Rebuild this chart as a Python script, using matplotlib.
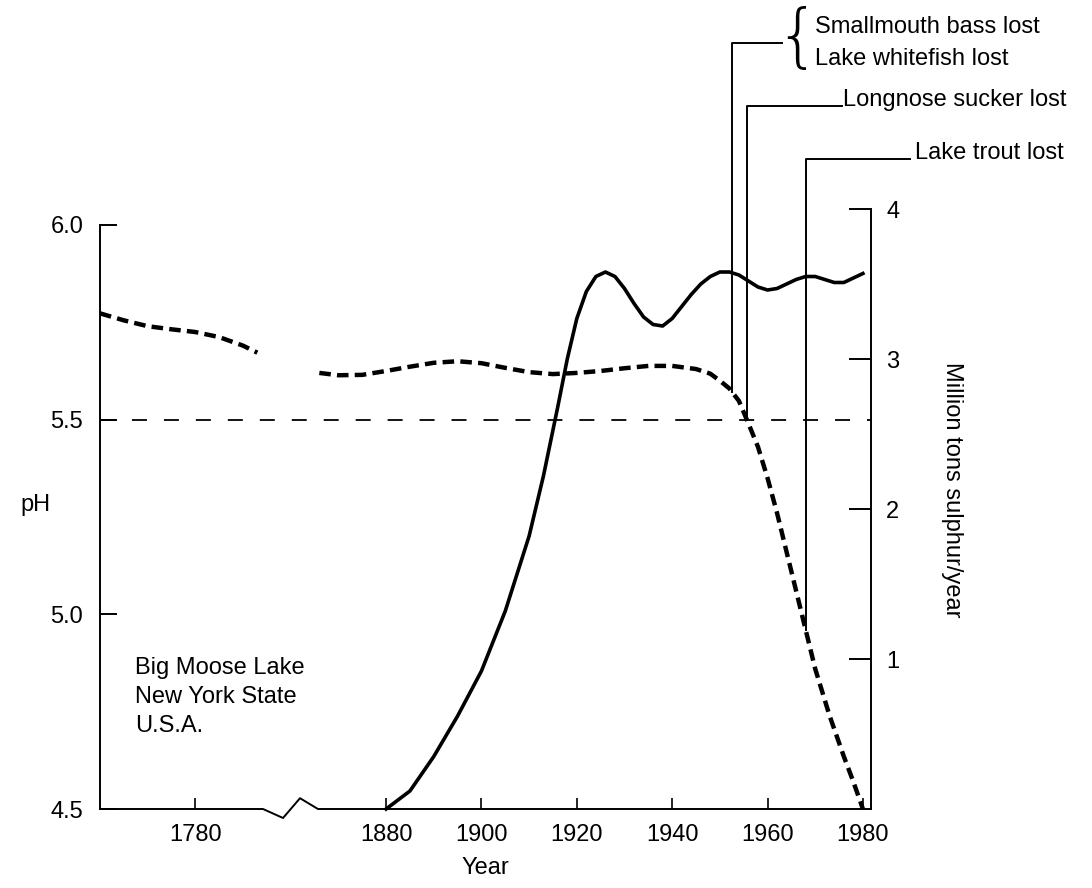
import numpy as np
import matplotlib
matplotlib.use("Agg")
import matplotlib.pyplot as plt
from matplotlib.lines import Line2D

plt.rcParams['font.family'] = ['Liberation Sans', 'DejaVu Sans']
FS = 17

# ---- data ----
ph_early_years = [1760, 1765, 1770, 1775, 1780, 1785, 1790, 1793]
ph_early = [5.773, 5.755, 5.740, 5.732, 5.725, 5.712, 5.690, 5.672]

ph_years = [1866, 1870, 1875, 1880, 1885, 1890, 1895, 1900, 1905, 1910, 1915,
            1920, 1925, 1930, 1935, 1940, 1945, 1948, 1950, 1952, 1954, 1956,
            1958, 1960, 1962, 1964, 1966, 1968, 1970, 1973, 1976, 1978, 1980]
ph_values = [5.620, 5.614, 5.615, 5.625, 5.636, 5.646, 5.650, 5.645, 5.633, 5.622, 5.617,
             5.620, 5.625, 5.632, 5.638, 5.638, 5.630, 5.618, 5.600, 5.580, 5.548, 5.490,
             5.430, 5.350, 5.260, 5.160, 5.060, 4.960, 4.860, 4.740, 4.635, 4.570, 4.500]

sulphur_years = [1880, 1885, 1890, 1895, 1900, 1905, 1910, 1913, 1916, 1918, 1920,
                 1922, 1924, 1926, 1928, 1930, 1932, 1934, 1936, 1938, 1940, 1942,
                 1944, 1946, 1948, 1950, 1952, 1954, 1956, 1958, 1960, 1962, 1964,
                 1966, 1968, 1970, 1972, 1974, 1976, 1978, 1980]
sulphur_values = [0.00, 0.12, 0.35, 0.62, 0.92, 1.32, 1.82, 2.22, 2.68, 3.00, 3.27,
                  3.45, 3.55, 3.58, 3.55, 3.47, 3.37, 3.28, 3.23, 3.22, 3.27, 3.35,
                  3.43, 3.50, 3.55, 3.58, 3.58, 3.56, 3.52, 3.48, 3.46, 3.47, 3.50,
                  3.53, 3.55, 3.55, 3.53, 3.51, 3.51, 3.54, 3.57]

losses = ["Smallmouth bass lost\nLake whitefish lost", "Longnose sucker lost", "Lake trout lost"]
loss_years = [1952.6, 1955.6, 1968.0]

x_ticks = [1780, 1880, 1900, 1920, 1940, 1960, 1980]
ph_ticks = [4.5, 5.0, 5.5, 6.0]
sulphur_ticks = [1, 2, 3, 4]
threshold_ph = 5.5

# ---- broken x scale ----
brk_in = [1600, 1794.3, 1865.9, 2100]
brk_out = [1600, 1794.3, 1805.9, 2040.0]

def fwd(x):
    return np.interp(x, brk_in, brk_out)

def inv(x):
    return np.interp(x, brk_out, brk_in)

fig = plt.figure(figsize=(10.92, 8.88), dpi=100)
L, R, B, T = 100 / 1092, 871 / 1092, 1 - 809 / 888, 1 - 209 / 888
ax = fig.add_axes([L, B, R - L, T - B])
ax.set_xscale('function', functions=(fwd, inv))
ax.set_xlim(1760, 1981.7)
ax.set_ylim(4.5, 6.041)

ax2 = ax.twinx()
ax2.set_ylim(0, 4)

for a in (ax, ax2):
    for s in a.spines.values():
        s.set_visible(False)
    a.patch.set_visible(False)

ax.spines['left'].set_visible(True)
ax.spines['left'].set_bounds(4.5, 6.0)
ax.spines['left'].set_linewidth(1.4)
ax2.spines['right'].set_visible(True)
ax2.spines['right'].set_bounds(0, 4)
ax2.spines['right'].set_linewidth(1.4)

# bottom axis with break
bx = [0, 0.2114, 0.2374, 0.2594, 0.2827, 1.0]
by = [0, 0, -0.015, 0.018, 0, 0]
ax.add_line(Line2D(bx, by, transform=ax.transAxes, color='black', lw=1.4, clip_on=False))

ax.set_xticks(x_ticks)
ax.set_xticklabels([str(t) for t in x_ticks])
ax.tick_params(axis='x', direction='in', length=8, width=1.2, pad=11, labelsize=FS)
ax.set_yticks(ph_ticks)
ax.set_yticklabels(['4.5', '5.0', '5.5', '6.0'])
ax.tick_params(axis='y', direction='in', length=12, width=1.4, pad=12, labelsize=FS)
ax.minorticks_off()
ax2.set_yticks(sulphur_ticks)
ax2.set_yticklabels([str(t) for t in sulphur_ticks])
ax2.tick_params(axis='y', direction='in', length=16, width=1.4, pad=11, labelsize=FS)

# threshold line
ax.plot([1760, 1981.7], [threshold_ph, threshold_ph], color='black', lw=1.3,
        dashes=(8.3, 9.4), clip_on=False)

# pH curves
ax.plot(ph_early_years, ph_early, color='black', lw=3.2, dashes=(2.6, 1.4),
        dash_capstyle='butt')
ax.plot(ph_years, ph_values, color='black', lw=3.2, dashes=(2.6, 1.4),
        dash_capstyle='butt', clip_on=False)

# sulphur curve
ax2.plot(sulphur_years, sulphur_values, color='black', lw=2.6, clip_on=False)

# loss annotations
ax_y_top = [1 - 43 / 888, 1 - 106 / 888, 1 - 159 / 888]
h_end = [782, 842, 910]
text_x = [815, 843, 915]
text_y = [1 - 43 / 888, 1 - 100 / 888, 1 - 153 / 888]
for yr, ytop, xe, tx, ty, lab in zip(loss_years, ax_y_top, h_end, text_x, text_y, losses):
    yb = float(np.interp(yr, ph_years, ph_values))
    disp = ax.transData.transform((yr, yb))
    fx, fy = fig.transFigure.inverted().transform(disp)
    fig.add_artist(Line2D([fx, fx, xe / 1092], [fy, ytop, ytop], color='black', lw=1.4))
    fig.text(tx / 1092, ty, lab, fontsize=FS, va='center', ha='left', linespacing=1.55)

# brace for first annotation
fig.text(797 / 1092, 1 - 40 / 888, '{', fontsize=50, va='center', ha='center',
         family='DejaVu Sans', fontweight='light')

# labels
fig.text(20 / 1092, 1 - 505 / 888, 'pH', fontsize=FS, va='center', ha='left')
fig.text(952 / 1092, 1 - 490 / 888, 'Million tons sulphur/year', fontsize=FS,
         rotation=-90, va='center', ha='center')
fig.text(485 / 1092, 1 - 868 / 888, 'Year', fontsize=FS, va='center', ha='center')
fig.text(135 / 1092, 1 - 697 / 888, 'Big Moose Lake\nNew York State\nU.S.A.',
         fontsize=FS, va='center', ha='left', linespacing=1.4)

fig.savefig('out.png', dpi=100)
